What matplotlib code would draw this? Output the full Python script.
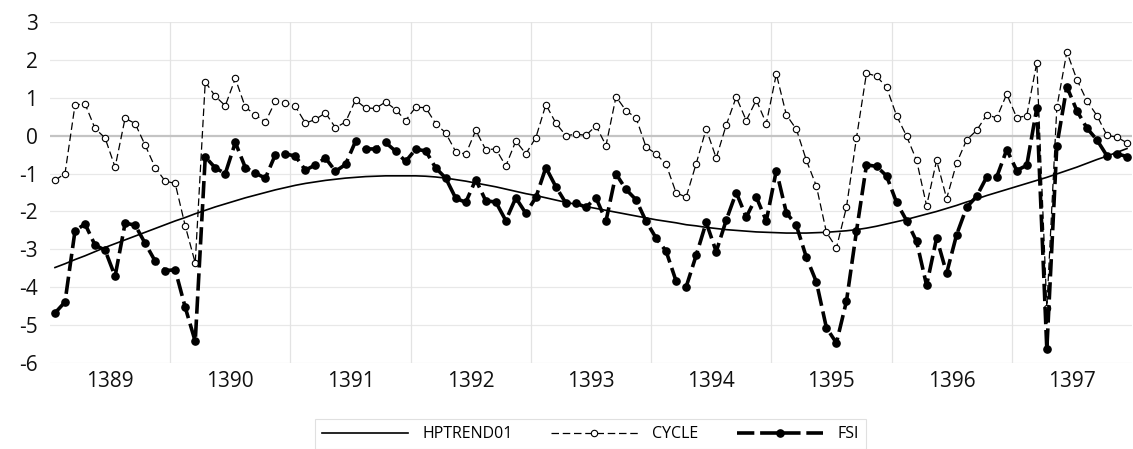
import matplotlib.pyplot as plt
import numpy as np

plt.rcParams['font.family'] = ['Open Sans', 'DejaVu Sans']

years = ['1389', '1390', '1391', '1392', '1393', '1394', '1395', '1396', '1397']
y_ticks = [3, 2, 1, 0, -1, -2, -3, -4, -5, -6]

# monthly values, 12 per year
fsi = [
    -4.68, -4.39, -2.51, -2.33, -2.89, -3.02, -3.71, -2.31, -2.36, -2.84, -3.31, -3.56,
    -3.54, -4.53, -5.43, -0.56, -0.85, -1.00, -0.18, -0.84, -0.99, -1.12, -0.50, -0.48,
    -0.54, -0.91, -0.77, -0.59, -0.94, -0.76, -0.15, -0.35, -0.35, -0.18, -0.41, -0.68,
    -0.36, -0.40, -0.85, -1.12, -1.65, -1.76, -1.16, -1.72, -1.75, -2.24, -1.64, -2.05,
    -1.63, -0.84, -1.35, -1.78, -1.78, -1.89, -1.64, -2.25, -1.01, -1.42, -1.69, -2.26,
    -2.70, -3.05, -3.84, -3.99, -3.16, -2.29, -3.06, -2.23, -1.50, -2.15, -1.62, -2.25,
    -0.92, -2.03, -2.37, -3.21, -3.86, -5.07, -5.47, -4.37, -2.52, -0.77, -0.81, -1.06,
    -1.76, -2.24, -2.79, -3.95, -2.70, -3.63, -2.61, -1.89, -1.60, -1.09, -1.09, -0.37,
    -0.92, -0.78, 0.73, -5.64, -0.26, 1.29, 0.66, 0.20, -0.11, -0.53, -0.48, -0.55,
]
cycle = [
    -1.18, -1.00, 0.81, 0.84, 0.19, -0.06, -0.83, 0.46, 0.32, -0.25, -0.84, -1.20,
    -1.26, -2.38, -3.36, 1.42, 1.04, 0.79, 1.51, 0.75, 0.55, 0.36, 0.91, 0.87,
    0.77, 0.33, 0.43, 0.60, 0.21, 0.36, 0.94, 0.73, 0.72, 0.89, 0.69, 0.40,
    0.75, 0.74, 0.32, 0.07, -0.42, -0.49, 0.14, -0.37, -0.35, -0.80, -0.14, -0.48,
    -0.05, 0.82, 0.33, 0.00, 0.04, 0.01, 0.26, -0.26, 1.03, 0.66, 0.47, -0.30,
    -0.48, -0.76, -1.51, -1.62, -0.74, 0.18, -0.59, 0.28, 1.02, 0.40, 0.94, 0.32,
    1.63, 0.55, 0.17, -0.65, -1.33, -2.55, -2.96, -1.89, -0.06, 1.65, 1.57, 1.28,
    0.53, -0.01, -0.65, -1.85, -0.65, -1.66, -0.72, -0.11, 0.14, 0.55, 0.47, 1.10,
    0.47, 0.53, 1.93, -4.55, 0.75, 2.21, 1.48, 0.92, 0.53, 0.01, -0.04, -0.19,
]
hptrend = [
    -3.48, -3.38, -3.27, -3.17, -3.06, -2.95, -2.85, -2.75, -2.65, -2.55, -2.45, -2.35,
    -2.25, -2.16, -2.06, -1.97, -1.88, -1.80, -1.72, -1.64, -1.57, -1.50, -1.43, -1.37,
    -1.31, -1.26, -1.22, -1.18, -1.15, -1.12, -1.10, -1.08, -1.07, -1.06, -1.06, -1.06,
    -1.06, -1.07, -1.09, -1.12, -1.16, -1.20, -1.25, -1.30, -1.35, -1.41, -1.47, -1.53,
    -1.58, -1.64, -1.70, -1.76, -1.81, -1.87, -1.92, -1.97, -2.02, -2.07, -2.12, -2.17,
    -2.22, -2.26, -2.30, -2.35, -2.38, -2.42, -2.45, -2.48, -2.50, -2.52, -2.54, -2.55,
    -2.56, -2.57, -2.57, -2.57, -2.56, -2.55, -2.53, -2.51, -2.48, -2.44, -2.39, -2.33,
    -2.27, -2.21, -2.14, -2.07, -2.00, -1.92, -1.84, -1.75, -1.67, -1.58, -1.50, -1.42,
    -1.34, -1.26, -1.18, -1.10, -1.01, -0.92, -0.83, -0.73, -0.63, -0.54, -0.44, -0.34,
]

x = np.arange(len(fsi))

fig = plt.figure(figsize=(11.33, 4.49), dpi=100)
ax = fig.add_axes([0.0441, 0.1915, 0.955, 0.7595])

# grid
for yv in y_ticks:
    if yv == 0:
        ax.axhline(yv, color='#c4c4c4', lw=1.6, zorder=1)
    else:
        ax.axhline(yv, color='#e8e8e8', lw=0.9, zorder=0)
for k in range(1, len(years)):
    ax.axvline(12 * k - 0.5, color='#e3e3e3', lw=0.9, zorder=0)

ax.plot(x, hptrend, color='black', lw=1.2, label='HPTREND01', zorder=3)
ax.plot(x, cycle, color='black', lw=0.9, dashes=(6, 3), marker='o', ms=4.6,
        mfc='white', mec='black', mew=0.8, label='CYCLE', zorder=4)
ax.plot(x, fsi, color='black', lw=2.6, dashes=(4.8, 1.6), marker='o', ms=5.2,
        mfc='black', mec='black', label='FSI', zorder=5)

ax.set_xlim(-0.5, len(fsi) - 0.5)
ax.set_ylim(-6, 3)
ax.set_yticks(y_ticks)
ax.set_yticklabels([str(v) for v in y_ticks])
ax.set_xticks([12 * k + 5.5 for k in range(len(years))])
ax.set_xticklabels(years)
ax.tick_params(axis='both', length=0, labelsize=15, colors='#111111')
ax.tick_params(axis='y', pad=9)
ax.tick_params(axis='x', pad=6)
for s in ax.spines.values():
    s.set_visible(False)

leg = fig.legend(loc='center', bbox_to_anchor=(0.521, 0.033), ncol=3,
                 frameon=True, fancybox=False, fontsize=11.5, handlelength=5.4,
                 columnspacing=2.4, handletextpad=0.9, borderpad=0.45)
leg.get_frame().set_edgecolor('#d9d9d9')
leg.get_frame().set_linewidth(0.8)

fig.savefig('out.png', dpi=100)
